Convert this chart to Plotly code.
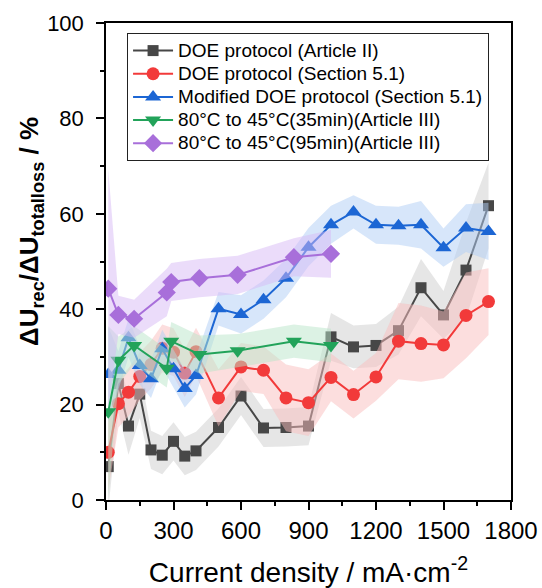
import plotly.graph_objects as go

# ---------------- data ----------------
gray_x = [10, 55, 100, 150, 200, 250, 300, 350, 400, 500, 600, 700, 800, 900, 1000, 1100, 1200, 1300, 1400, 1500, 1600, 1700]
gray_y = [7, 24.4, 15.5, 22.2, 10.5, 9.4, 12.3, 9.2, 10.3, 15.2, 21.8, 15.1, 15.2, 15.5, 34.2, 32.1, 32.4, 35.5, 44.5, 38.8, 48.2, 61.7]
gray_err = [9, 6, 6, 5, 4, 4, 4, 4, 4, 4, 4, 4, 4, 4, 5, 4.5, 4.5, 5, 6, 5, 10, 9]

red_x = [10, 55, 100, 150, 200, 250, 300, 350, 400, 500, 600, 700, 800, 900, 1000, 1100, 1200, 1300, 1400, 1500, 1600, 1700]
red_y = [10, 20.2, 22.6, 25.9, 28.4, 31.8, 31.0, 26.6, 31.1, 21.4, 27.9, 27.2, 21.4, 20.4, 25.7, 22.1, 25.8, 33.3, 32.8, 32.5, 38.7, 41.6]
red_err = [8, 5, 5, 5, 5, 5, 5, 5, 5, 6, 5, 5, 7, 7, 5, 5, 5, 8, 8, 7, 9, 7]

blue_x = [10, 55, 100, 150, 200, 250, 300, 350, 400, 500, 600, 700, 800, 900, 1000, 1100, 1200, 1300, 1400, 1500, 1600, 1700]
blue_y = [26.3, 27.2, 34.0, 28.2, 25.4, 31.7, 27.5, 23.4, 26.1, 40.1, 38.9, 42.0, 46.5, 53.0, 57.7, 60.4, 57.7, 57.5, 57.7, 52.9, 57.0, 56.3]
blue_err = [10, 4, 4, 4, 4, 4, 4, 4, 4, 3.5, 4, 4, 4, 4, 4, 3.5, 4, 4, 5, 4, 5, 6]

green_x = [10, 55, 125, 270, 290, 415, 585, 835, 1000]
green_y = [18.5, 29.3, 32.4, 27.6, 33.3, 30.5, 31.3, 33.3, 32.4]
green_err = [18, 5, 4, 4, 4, 4, 3.5, 3.5, 3.5]

purple_x = [10, 55, 125, 270, 290, 415, 585, 835, 1000]
purple_y = [44.3, 38.8, 38.0, 43.5, 45.7, 46.5, 47.2, 50.9, 51.6]
purple_err = [25, 4, 4, 5, 4, 4, 4, 4, 5]

names = ["DOE protocol (Article II)", "DOE protocol (Section 5.1)",
         "Modified DOE protocol (Section 5.1)", "80°C to 45°C(35min)(Article III)",
         "80°C to 45°C(95min)(Article III)"]

series = [
    (gray_x, gray_y, gray_err, "#474747", "rgba(205,205,205,0.5)", "square", 11),
    (red_x, red_y, red_err, "#f23a3a", "rgba(249,190,190,0.5)", "circle", 13),
    (blue_x, blue_y, blue_err, "#1c66d4", "rgba(175,205,245,0.5)", "triangle-up", 14),
    (green_x, green_y, green_err, "#22a35a", "rgba(185,229,201,0.5)", "triangle-down", 14),
    (purple_x, purple_y, purple_err, "#a86fda", "rgba(215,185,245,0.5)", "diamond", 14),
]

fig = go.Figure()
for name, (xs, ys, es, col, fillcol, sym, msz) in zip(names, series):
    upper = [y + e for y, e in zip(ys, es)]
    lower = [y - e for y, e in zip(ys, es)]
    fig.add_trace(go.Scatter(
        x=list(xs) + list(xs)[::-1], y=upper + lower[::-1],
        fill="toself", fillcolor=fillcol, line=dict(width=0),
        mode="lines", showlegend=False, hoverinfo="skip"))
    fig.add_trace(go.Scatter(
        x=xs, y=ys, name='<span style="font-size:19px">' + name + '</span>',
        mode="lines+markers",
        line=dict(color=col, width=2),
        marker=dict(symbol=sym, size=msz, color=col)))

FONT = "Liberation Sans, Arial"
axis_common = dict(
    showline=True, linecolor="black", linewidth=1.5, mirror=True,
    ticks="outside", tickcolor="black", tickwidth=1.5, ticklen=8,
    showgrid=False, zeroline=False,
)

fig.update_xaxes(range=[0, 1800], tickvals=[0, 300, 600, 900, 1200, 1500, 1800],
                 tickfont=dict(family=FONT, size=24, color="black"),
                 minor=dict(ticks="outside", tickvals=[150, 450, 750, 1050, 1350, 1650],
                            ticklen=4, tickcolor="black", tickwidth=1.5),
                 title=dict(text="Current density / mA·cm<sup>-2</sup>",
                            font=dict(family=FONT, size=28, color="black"),
                            standoff=22),
                 automargin=False,
                 **axis_common)
fig.update_yaxes(range=[0, 100], tickvals=[0, 20, 40, 60, 80, 100],
                 tickfont=dict(family=FONT, size=22, color="black"),
                 minor=dict(ticks="outside", tickvals=[10, 30, 50, 70, 90],
                            ticklen=4, tickcolor="black", tickwidth=1.5),
                 ticklabelstandoff=8, automargin=False,
                 **axis_common)

fig.add_annotation(
    text="<b>ΔU<sub>rec</sub>/ΔU<sub>totalloss</sub> / %</b>",
    xref="paper", yref="paper", x=-0.185, y=0.562,
    xanchor="center", yanchor="middle", textangle=-90, showarrow=False,
    font=dict(family=FONT, size=26, color="black"))

fig.update_layout(
    width=542, height=588,
    margin=dict(l=106, r=31, t=23, b=88),
    paper_bgcolor="white", plot_bgcolor="white",
    font=dict(family=FONT, color="black"),
    legend=dict(x=0.052, y=0.979, xanchor="left", yanchor="top",
                bgcolor="white", bordercolor="#222", borderwidth=1,
                font=dict(family=FONT, size=15.5, color="black"),
                tracegroupgap=0, itemwidth=40),
)

fig.write_html("out.html")
